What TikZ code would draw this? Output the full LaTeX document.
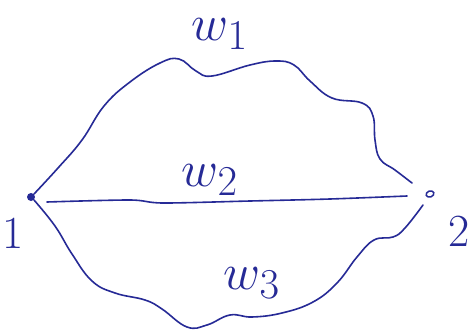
\documentclass[tikz,border=0pt]{standalone}
\usetikzlibrary{shapes.geometric}
\begin{document}
\begin{tikzpicture}[x=1pt,y=-1pt,
  ink/.style={draw=inkblue,line width=1.6pt,line cap=round,line join=round},
  lbl/.style={text=inkblue,font=\fontsize{46}{50}\selectfont,inner sep=0pt},
  wlbl/.style={text=inkblue,font=\Huge,scale=2.05,inner sep=0pt}]
\definecolor{inkblue}{RGB}{38,42,150}
\useasboundingbox[fill=white] (0,0) rectangle (475,330);
\node[circle,fill=inkblue,minimum size=8pt,inner sep=0pt] (n1) at (31,197) {};
\node[ellipse,draw=inkblue,line width=1.5pt,minimum width=8pt,minimum height=6pt,inner sep=0pt,rotate=20] (n2) at (430,194) {};
% top path w1
\draw[ink] plot[smooth,tension=0.7] coordinates {(n1.north east) (58,168) (82,140) (104,106) (130,82) (160,63) (179,59) (196,71) (212,76) (250,65) (276,61) (294,65) (310,81) (332,98) (362,103) (373,116) (375,140) (380,159) (395,170) (412,183)};
% middle path w2
\draw[ink] plot[smooth,tension=0.5] coordinates {(47,202) (130,200) (163,203) (250,201) (330,199) (407,196)};
% bottom path w3
\draw[ink] plot[smooth,tension=0.7] coordinates {(n1.south east) (55,226) (72,254) (92,281) (115,293) (145,300) (162,309) (187,327) (207,325) (230,315) (252,317) (282,313) (313,302) (337,283) (357,257) (374,240) (393,237) (405,228) (423,205)};
\node[wlbl] (w1) at (220,34) {$w_1$};
\node[wlbl] (w2) at (210,180) {$w_2$};
\node[wlbl] (w3) at (252,283) {$w_3$};
\node[lbl,anchor=north] (l1) at (13,218) {1};
\node[lbl,anchor=north] (l2) at (459,216) {2};
\end{tikzpicture}
\end{document}
